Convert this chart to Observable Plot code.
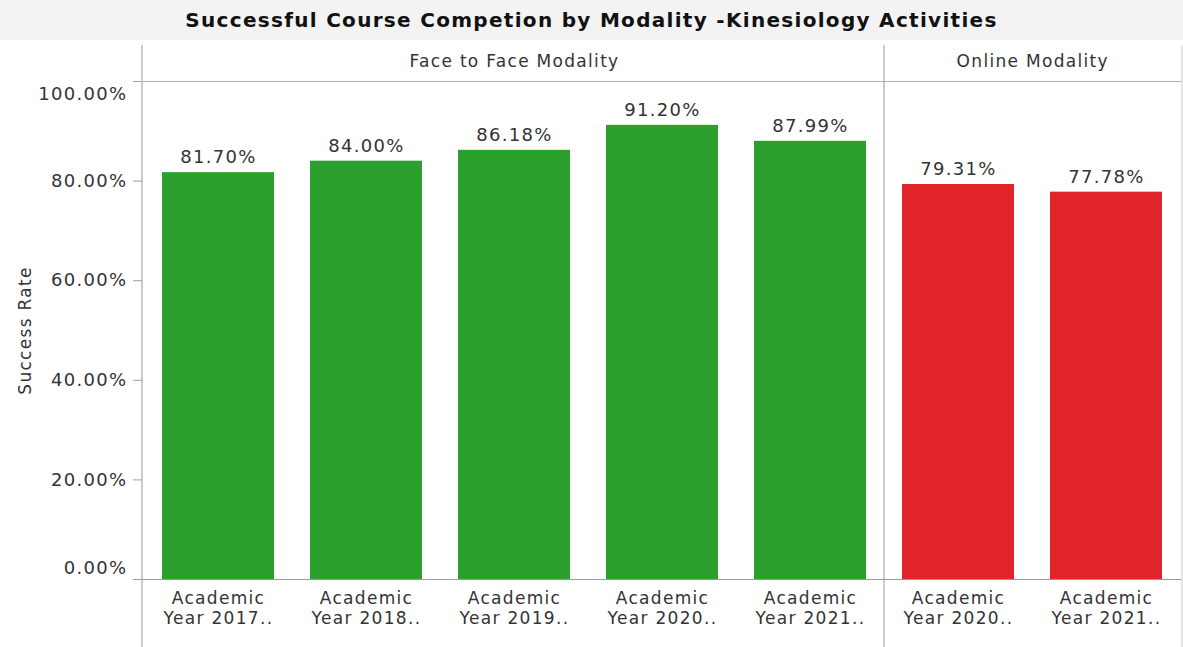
<!DOCTYPE html>
<html>
<head>
<meta charset="utf-8">
<script src="https://cdn.jsdelivr.net/npm/d3@7"></script>
<script src="https://cdn.jsdelivr.net/npm/@observablehq/plot@0.6"></script>
<style>
  html, body { margin: 0; padding: 0; background: #fff; }
  #title {
    height: 40px; line-height: 40px; text-align: center;
    font-family: "DejaVu Sans", sans-serif; font-weight: bold; font-size: 20px;
    letter-spacing: 1.3px;
    color: #111; background: #f3f3f3;
  }
  #chart svg { display: block; }
</style>
</head>
<body>
<div id="title">Successful Course Competion by Modality -Kinesiology Activities</div>
<div id="chart"></div>
<script>
// ---- data ----
const keys = ["F2017", "F2018", "F2019", "F2020", "F2021", "O2020", "O2021"];
const tickLabels = [
  "Academic\nYear 2017..", "Academic\nYear 2018..", "Academic\nYear 2019..",
  "Academic\nYear 2020..", "Academic\nYear 2021..",
  "Academic\nYear 2020..", "Academic\nYear 2021.."
];
const values = [81.70, 84.00, 86.18, 91.20, 87.99, 79.31, 77.78];
const modality = ["Face to Face", "Face to Face", "Face to Face", "Face to Face", "Face to Face", "Online", "Online"];
const modalities = ["Face to Face", "Online"];
const modalityColors = ["#2ca02c", "#e02427"];
const headerLabels = ["Face to Face Modality", "Online Modality"];
const yTicks = [0, 20, 40, 60, 80, 100];
const yTitle = "Success Rate";

const data = keys.map((k, i) => ({key: k, label: tickLabels[i], value: values[i], modality: modality[i]}));
const labelOf = Object.fromEntries(data.map(d => [d.key, d.label]));
const fmt = d => d.toFixed(2) + "%";

// ---- layout ----
const W = 1183, H = 607, ML = 142, MR = 2, MT = 41, MB = 68;
const step = (W - ML - MR) / keys.length;
const faceKeys = keys.filter((k, i) => modality[i] === modalities[0]);
const onlineKeys = keys.filter((k, i) => modality[i] === modalities[1]);

const chart = Plot.plot({
  width: W, height: H,
  marginLeft: ML, marginRight: MR, marginTop: MT, marginBottom: MB,
  style: {fontFamily: "'DejaVu Sans', sans-serif", fontSize: "17px", color: "#333", overflow: "visible", background: "transparent", letterSpacing: "1.3px"},
  x: {domain: keys, padding: 0, axis: null},
  y: {domain: [0, 100], axis: null},
  color: {domain: modalities, range: modalityColors},
  marks: [
    Plot.barY(data, {x: "key", y: "value", fill: "modality", insetLeft: 18, insetRight: 18}),
    Plot.ruleY([0], {stroke: "#9a9a9a"}),
    Plot.ruleY([100], {stroke: "#b0b0b0"}),
    Plot.axisY({ticks: yTicks, tickFormat: () => "", tickSize: 9, stroke: "#a0a0a0", label: null}),
    Plot.axisY({ticks: yTicks.slice(1, -1), tickFormat: fmt, tickSize: 0, tickPadding: 15, fontSize: 18, label: null}),
    Plot.axisY({ticks: yTicks.slice(-1), tickFormat: fmt, tickSize: 0, tickPadding: 15, fontSize: 18, dy: 13, label: null}),
    Plot.axisY({ticks: yTicks.slice(0, 1), tickFormat: fmt, tickSize: 0, tickPadding: 15, fontSize: 18, dy: -11, label: null}),
    Plot.axisX({tickFormat: d => labelOf[d], tickSize: 0, tickPadding: 10, fontSize: 17, lineHeight: 1.18, label: null}),
    Plot.text(data, {x: "key", y: "value", text: d => fmt(d.value), dy: -15, fontSize: 18, fill: "#333"}),
    Plot.text([headerLabels[0]], {x: () => faceKeys[Math.floor(faceKeys.length / 2)], frameAnchor: "top", lineAnchor: "middle", dy: -20, fontSize: 17, fill: "#333"}),
    Plot.text([headerLabels[1]], {x: () => onlineKeys[0], dx: step / 2, frameAnchor: "top", lineAnchor: "middle", dy: -20, fontSize: 17, fill: "#333"}),
    Plot.text([yTitle], {frameAnchor: "left", textAnchor: "middle", lineAnchor: "middle", rotate: -90, dx: -117, fontSize: 17, fill: "#333"})
  ]
});

document.getElementById("chart").appendChild(chart);

// structural vertical lines (axis line, modality divider, right edge)
const xs = chart.scale("x");
const svg = d3.select(chart);
const vlines = [
  {x: ML, stroke: "#a8a8a8"},
  {x: xs.apply(onlineKeys[0]), stroke: "#a8a8a8"},
  {x: W - 1, stroke: "#d0d0d0"}
];
svg.append("g").selectAll("line").data(vlines).join("line")
  .attr("x1", d => d.x).attr("x2", d => d.x)
  .attr("y1", 5).attr("y2", H)
  .attr("stroke", d => d.stroke).attr("stroke-width", 1.2);
</script>
</body>
</html>
